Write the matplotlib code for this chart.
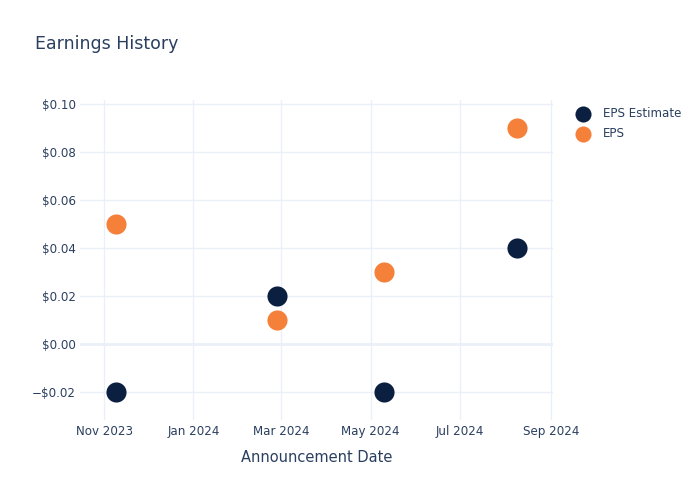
import pandas as pd
import matplotlib.pyplot as plt
import matplotlib.dates as mdates
from matplotlib.ticker import FuncFormatter

# Earnings data
dates = pd.to_datetime(["2023-11-09", "2024-02-27", "2024-05-10", "2024-08-09"])
eps_estimate = [-0.02, 0.02, -0.02, 0.04]
eps_actual = [0.05, 0.01, 0.03, 0.09]

text_color = "#2a3f5f"
grid_color = "#ebf0f8"
navy = "#0b1f41"
orange = "#f5803a"

plt.rcParams["font.family"] = "DejaVu Sans"

fig = plt.figure(figsize=(7, 5), dpi=100)
ax = fig.add_axes([80 / 700, 80 / 500, 473 / 700, 320 / 500])

ax.scatter(dates, eps_estimate, s=210, color=navy, label="EPS Estimate", zorder=3, linewidths=0)
ax.scatter(dates, eps_actual, s=210, color=orange, label="EPS", zorder=3, linewidths=0)

ax.set_xlim(pd.Timestamp("2023-10-15 12:00"), pd.Timestamp("2024-09-02 12:00"))
ax.set_ylim(-0.0318, 0.1018)

ax.xaxis.set_major_locator(mdates.MonthLocator(bymonth=[1, 3, 5, 7, 9, 11]))
ax.xaxis.set_major_formatter(mdates.DateFormatter("%b %Y"))
ax.set_yticks([-0.02, 0, 0.02, 0.04, 0.06, 0.08, 0.10])
ax.yaxis.set_major_formatter(FuncFormatter(lambda v, p: ("\u2212$" if v < -1e-9 else "$") + f"{abs(v):.2f}"))

ax.grid(True, color=grid_color, linewidth=1, zorder=0)
ax.axhline(0, color=grid_color, linewidth=2, zorder=1)
for s in ax.spines.values():
    s.set_visible(False)
ax.tick_params(length=0, colors=text_color, labelsize=8.6)
ax.tick_params(axis="y", pad=3)
ax.tick_params(axis="x", pad=3.5)

ax.set_xlabel("Announcement Date", color=text_color, fontsize=10.5, labelpad=9)
fig.text(35 / 700, 1 - 44 / 500, "Earnings History", color=text_color, fontsize=12.5, va="center")

leg = ax.legend(loc="upper left", bbox_to_anchor=(571 / 700, 1 - 107 / 500),
                bbox_transform=fig.transFigure, frameon=False,
                fontsize=8.6, labelcolor=text_color, handletextpad=0.65,
                labelspacing=0.6, markerscale=0.8, borderpad=0, borderaxespad=0)

fig.savefig("out.png", dpi=100)
